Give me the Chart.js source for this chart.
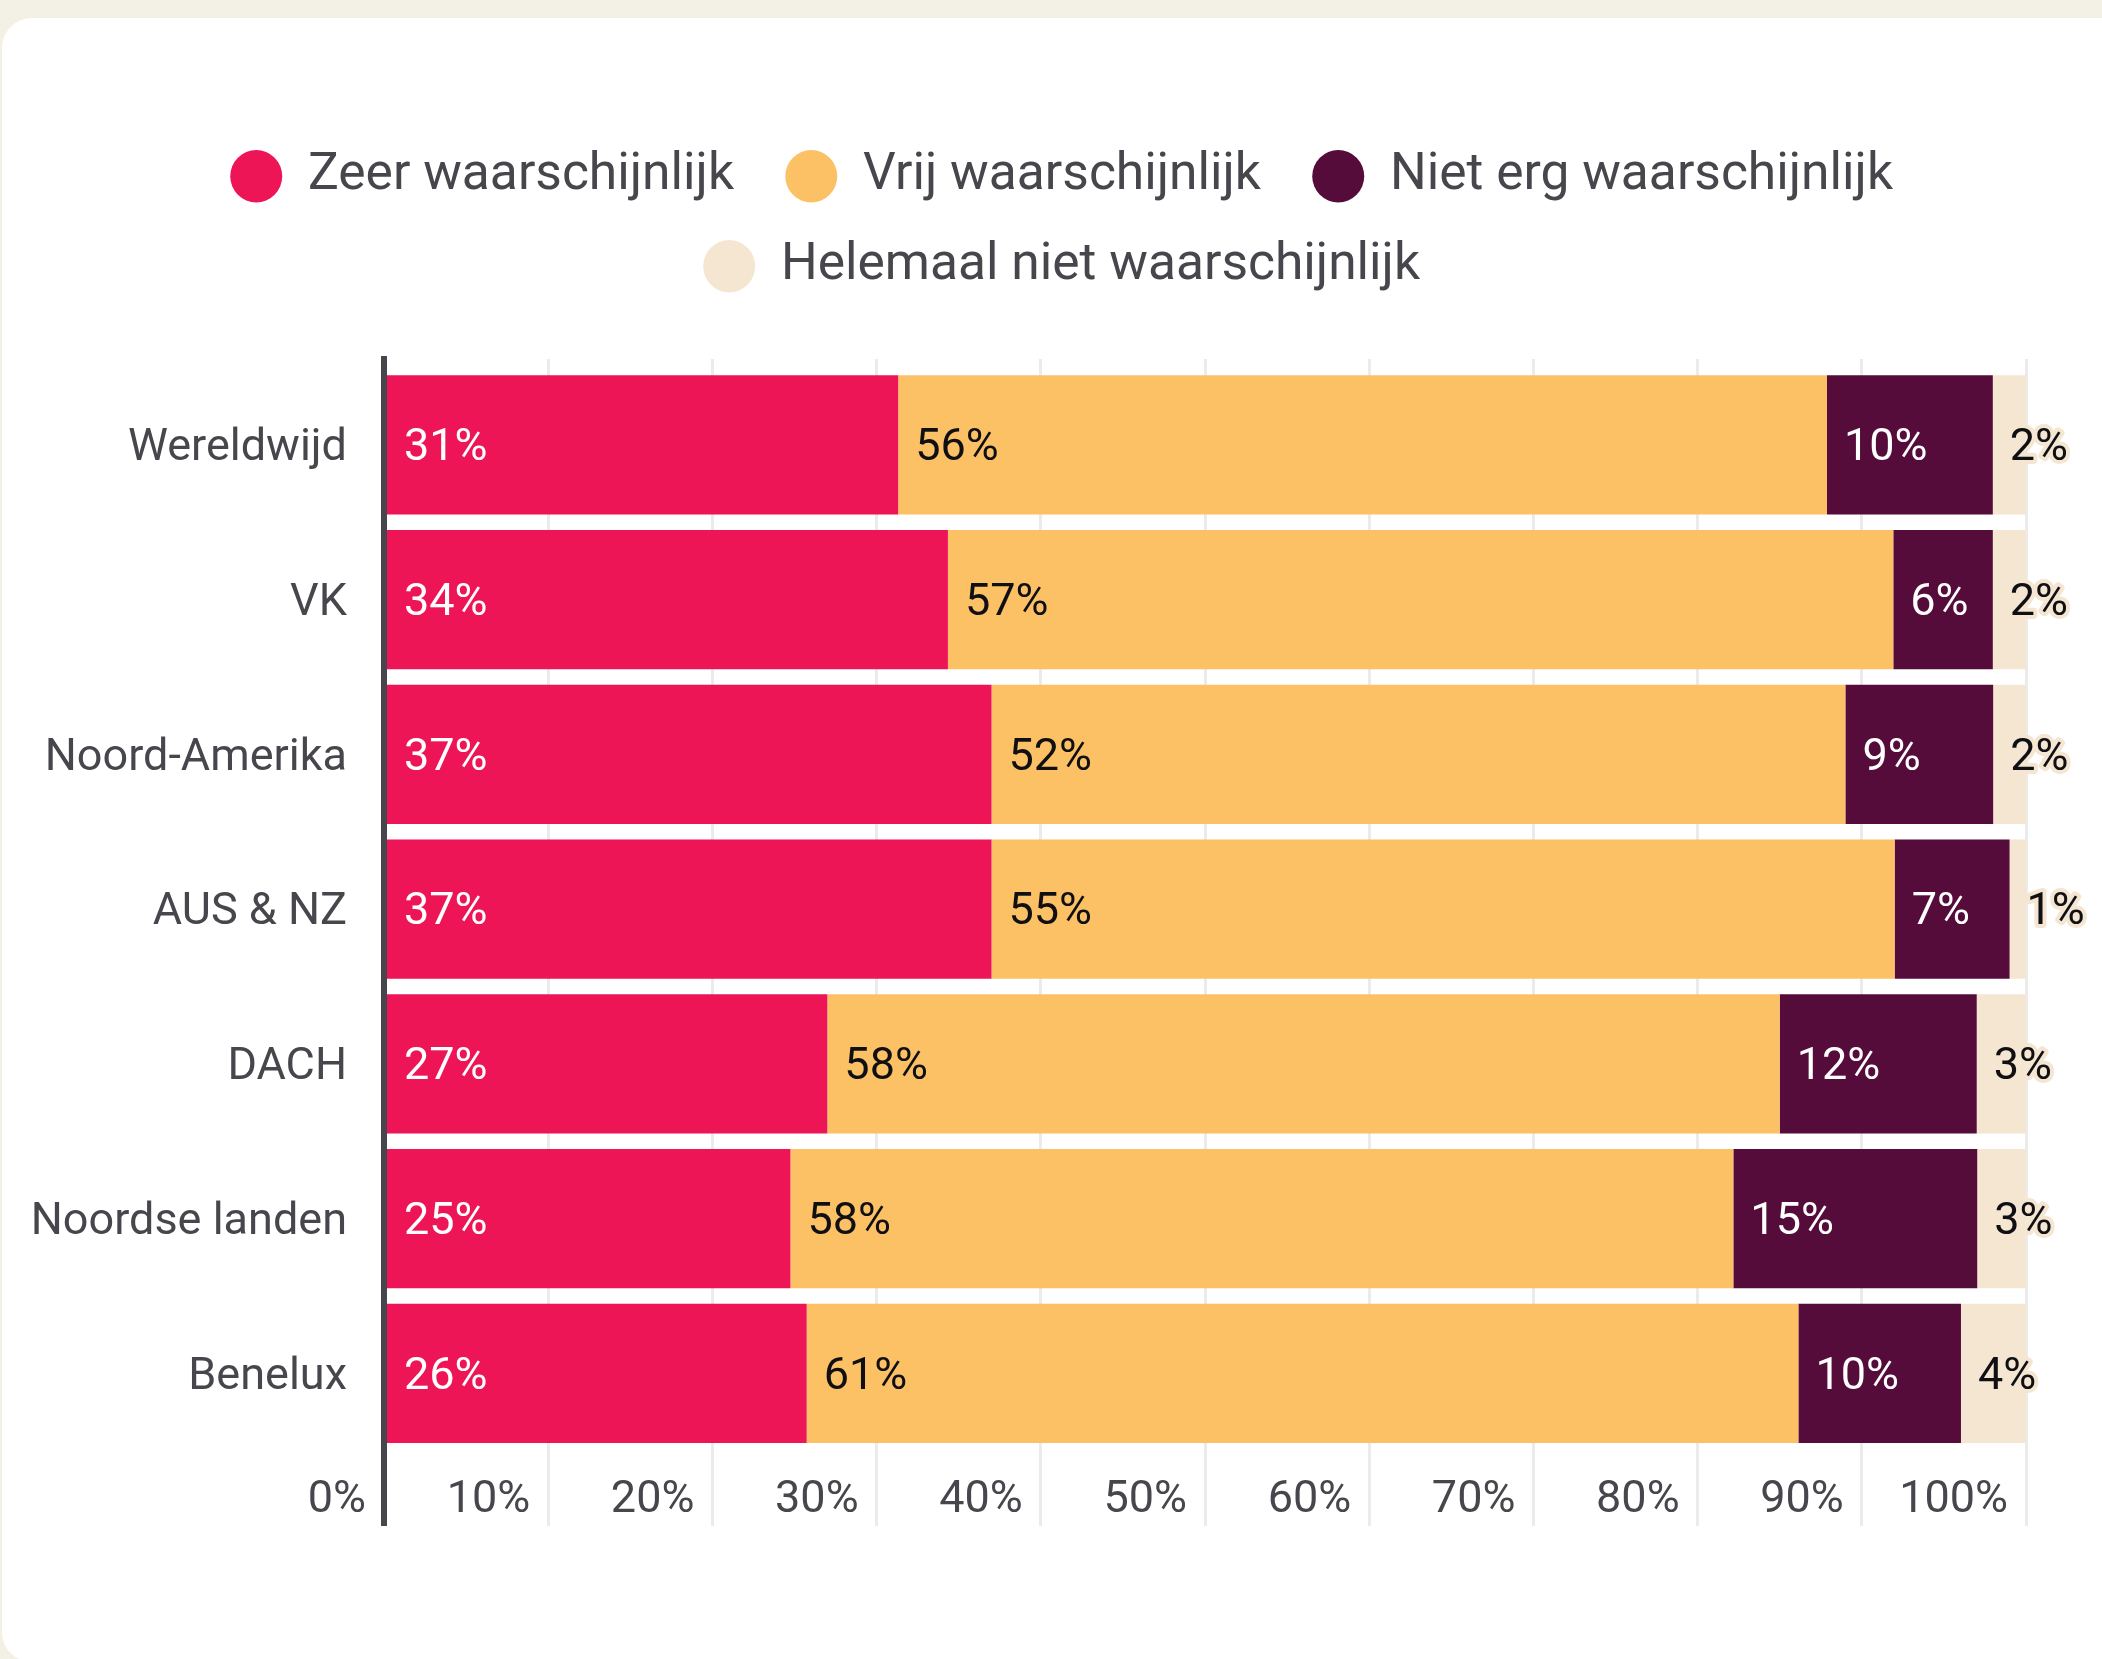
<!DOCTYPE html>
<html>
<head>
<meta charset="utf-8">
<title>Waarschijnlijkheid per regio</title>
<script src="https://cdn.jsdelivr.net/npm/chart.js@4.4.0/dist/chart.umd.min.js"></script>
<style>
  html, body { margin: 0; padding: 0; background: #F3F0E5; overflow: hidden; }
  #card { position: absolute; left: 2px; top: 18px; width: 2140px; height: 1644px; background: #ffffff; border-radius: 30px; }
  #chart { position: absolute; left: 0; top: 0; }
</style>
</head>
<body>
<div id="card"></div>
<canvas id="chart" width="2102" height="1659"></canvas>
<script>
'use strict'

const categories = ['Wereldwijd', 'VK', 'Noord-Amerika', 'AUS & NZ', 'DACH', 'Noordse landen', 'Benelux'];
const seriesNames = ['Zeer waarschijnlijk', 'Vrij waarschijnlijk', 'Niet erg waarschijnlijk', 'Helemaal niet waarschijnlijk'];

// percentages as printed on the bars
const zeerWaarschijnlijk = [31, 34, 37, 37, 27, 25, 26];
const vrijWaarschijnlijk = [56, 57, 52, 55, 58, 58, 61];
const nietErgWaarschijnlijk = [10, 6, 9, 7, 12, 15, 10];
const helemaalNiet = [2, 2, 2, 1, 3, 3, 4];

const xTickMin = 0;
const xTickMax = 100;
const xTickStep = 10;

const colors = ['#EE1556', '#FCC165', '#550C3A', '#F5E6D2'];
const labelColors = ['#ffffff', '#0F0F14', '#ffffff', '#0F0F14'];
const textColor = '#47464C';
const gridColor = '#EBEBEB';

const allSeries = [zeerWaarschijnlijk, vrijWaarschijnlijk, nietErgWaarschijnlijk, helemaalNiet];

// bars are drawn as share of the row total (rows add up to 99-101)
let rowTotals = categories.map((c, i) => allSeries.reduce((s, arr) => s + arr[i], 0));

let datasets = allSeries.map((values, k) => ({
  label: seriesNames[k],
  raw: values,
  data: values.map((v, i) => ({ x: v / rowTotals[i] * 100, y: i })),
  backgroundColor: colors[k],
  borderWidth: 0,
  barPercentage: 0.9,
  categoryPercentage: 1
}));

// value labels at the start of each segment
const barLabels = {
  id: 'barLabels',
  afterDatasetsDraw(chart) {
    let ctx = chart.ctx;
    ctx.save();
    ctx.font = '45px Roboto';
    ctx.textAlign = 'left';
    ctx.textBaseline = 'middle';
    chart.data.datasets.forEach((ds, i) => {
      chart.getDatasetMeta(i).data.forEach((bar, j) => {
        let txt = ds.raw[j] + '%';
        let x = Math.min(bar.base, bar.x) + 17;
        let y = bar.y + 4;
        if (i === 3) {
          ctx.lineWidth = 8;
          ctx.lineJoin = 'round';
          ctx.strokeStyle = colors[3];
          ctx.strokeText(txt, x, y);
        }
        ctx.fillStyle = labelColors[i];
        ctx.fillText(txt, x, y);
      });
    });
    ctx.restore();
  }
};

// legend is centred a bit right of the canvas middle
const legendShift = {
  id: 'legendShift',
  afterLayout(chart) {
    chart.legend.left = 110;
  }
};

function gridLineColor(c) {
  return c.tick && c.tick.value === 0 ? textColor : gridColor;
}
function gridLineWidth(c) {
  return c.tick && c.tick.value === 0 ? 6 : 3;
}

Chart.defaults.font.family = 'Roboto';
Chart.defaults.color = textColor;

let myChart = new Chart(document.getElementById('chart'), {
  type: 'bar',
  data: { labels: categories, datasets: datasets },
  plugins: [barLabels, legendShift],
  options: {
    indexAxis: 'y',
    responsive: false,
    animation: false,
    devicePixelRatio: 1,
    layout: { padding: { top: 112, left: 0, right: 76, bottom: 128 } },
    plugins: {
      tooltip: { enabled: false },
      legend: {
        position: 'top',
        labels: {
          usePointStyle: true,
          pointStyle: 'circle',
          pointStyleWidth: 52,
          boxHeight: 37,
          padding: 38.5,
          color: textColor,
          font: { size: 51.5 },
          generateLabels(chart) {
            return Chart.defaults.plugins.legend.labels.generateLabels(chart).map(l => {
              l.text = l.text + ' ';
              return l;
            });
          }
        }
      }
    },
    scales: {
      y: {
        type: 'linear',
        reverse: true,
        stacked: true,
        offset: false,
        // half a band above the first bar, extra room below the last one for the x labels
        min: -0.555,
        max: 6.985,
        afterBuildTicks(scale) {
          scale.ticks = categories.map((c, i) => ({ value: i }));
        },
        grid: { display: false, drawTicks: false },
        border: { display: true, color: textColor, width: 6, z: 1 },
        ticks: {
          autoSkip: false,
          color: textColor,
          font: { size: 45 },
          padding: 37,
          labelOffset: 4,
          callback: v => categories[v]
        },
        afterFit(scale) { scale.width = 384; }
      },
      x: {
        stacked: true,
        position: 'bottom',
        min: xTickMin,
        max: xTickMax,
        border: { display: false },
        grid: {
          color: gridLineColor,
          lineWidth: gridLineWidth,
          drawTicks: false
        },
        ticks: {
          stepSize: xTickStep,
          autoSkip: false,
          maxRotation: 0,
          mirror: true,
          align: 'end',
          labelOffset: -18,
          padding: 2.6,
          color: textColor,
          font: { size: 45, lineHeight: 1 },
          callback: v => v + '%'
        }
      },
      // empty axis, only used as the gap between legend and plot
      xTop: {
        type: 'linear',
        axis: 'x',
        position: 'top',
        min: xTickMin,
        max: xTickMax,
        border: { display: false },
        grid: { display: false, drawTicks: false },
        ticks: { display: false },
        title: { display: true, text: '', padding: 0, font: { size: 57, lineHeight: 1 } }
      }
    }
  }
});
</script>
</body>
</html>
